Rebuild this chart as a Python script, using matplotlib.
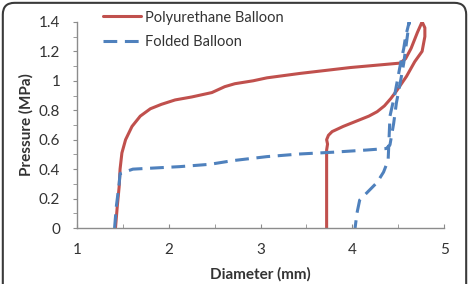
import matplotlib
matplotlib.use("Agg")
import matplotlib.pyplot as plt
from matplotlib.patches import FancyBboxPatch

# Polyurethane balloon (inflate then deflate)
pu_d = [1.42, 1.44, 1.46, 1.47, 1.49, 1.53, 1.60, 1.69, 1.80, 1.92, 2.07, 2.25, 2.47, 2.61, 2.72, 2.92, 3.07, 3.43, 3.98, 4.52, 4.58, 4.64, 4.71, 4.76, 4.79, 4.79, 4.76, 4.68, 4.59, 4.48, 4.42, 4.35, 4.27, 4.18, 4.08, 3.90, 3.78, 3.74, 3.72, 3.73, 3.72, 3.72, 3.72]
pu_p = [0.00, 0.15, 0.28, 0.40, 0.51, 0.60, 0.69, 0.76, 0.81, 0.84, 0.87, 0.89, 0.92, 0.96, 0.98, 1.00, 1.02, 1.05, 1.09, 1.12, 1.15, 1.22, 1.33, 1.40, 1.36, 1.30, 1.20, 1.13, 1.03, 0.93, 0.88, 0.83, 0.79, 0.76, 0.735, 0.69, 0.655, 0.63, 0.60, 0.57, 0.53, 0.40, 0.00]

# Folded balloon (inflate then deflate)
fb_d = [1.41, 1.43, 1.46, 1.47, 1.61, 2.12, 2.45, 2.70, 3.07, 3.43, 3.79, 4.16, 4.37, 4.41, 4.45, 4.48, 4.52, 4.56, 4.59, 4.62, 4.58, 4.56, 4.52, 4.46, 4.41, 4.39, 4.34, 4.27, 4.08, 4.05, 4.03]
fb_p = [0.00, 0.15, 0.30, 0.37, 0.40, 0.417, 0.433, 0.458, 0.485, 0.503, 0.515, 0.53, 0.54, 0.565, 0.71, 0.85, 0.98, 1.12, 1.26, 1.40, 1.30, 1.22, 1.10, 0.90, 0.76, 0.46, 0.38, 0.31, 0.19, 0.10, 0.00]

x_ticks = [1, 2, 3, 4, 5]
y_ticks = [0, 0.2, 0.4, 0.6, 0.8, 1.0, 1.2, 1.4]
y_labels = ["0", "0.2", "0.4", "0.6", "0.8", "1", "1.2", "1.4"]

plt.rcParams['font.family'] = ['Lato', 'DejaVu Sans']

fig = plt.figure(figsize=(4.69, 2.84), dpi=100)
border = FancyBboxPatch((0.006, -0.05), 0.988, 1.04, boxstyle="round,pad=0,rounding_size=0.025",
                        transform=fig.transFigure, facecolor="none", edgecolor="#3a3a3a",
                        linewidth=1.5, mutation_aspect=469/284, zorder=-1)
fig.patches.append(border)

ax = fig.add_axes([0.164, 0.197, 0.783, 0.726])
ax.set_facecolor("none")
ax.plot(pu_d, pu_p, color="#C0504D", lw=2.2, label="Polyurethane Balloon",
        solid_joinstyle="round", solid_capstyle="round")
ax.plot(fb_d, fb_p, color="#4F81BD", lw=2.2, ls=(0, (4.5, 2.5)), label="Folded Balloon")

ax.set_xlim(1, 5)
ax.set_ylim(0, 1.4)
ax.set_xticks(x_ticks)
ax.set_xticks([1.5, 2.5, 3.5, 4.5], minor=True)
ax.set_yticks(y_ticks)
ax.set_yticklabels(y_labels)
ax.set_yticks([0.1, 0.3, 0.5, 0.7, 0.9, 1.1, 1.3], minor=True)

for s in ["top", "right"]:
    ax.spines[s].set_visible(False)
for s in ["left", "bottom"]:
    ax.spines[s].set_color("#8c8c8c")
    ax.spines[s].set_linewidth(1.0)

ax.tick_params(axis="x", which="both", direction="in", length=3, color="#8c8c8c", labelsize=11, labelcolor="#333333", pad=11)
ax.tick_params(axis="y", which="both", direction="out", length=3, color="#8c8c8c", labelsize=11, labelcolor="#333333", pad=9)

ax.set_xlabel("Diameter (mm)", fontsize=11, fontweight="bold", color="#333333", labelpad=7)
ax.set_ylabel("Pressure (MPa)", fontsize=11, fontweight="bold", color="#333333", labelpad=4)

leg = ax.legend(loc="upper left", bbox_to_anchor=(0.07, 1.055), frameon=False, fontsize=10.5,
                handlelength=2.6, handletextpad=0.3, labelspacing=0.75, borderaxespad=0, borderpad=0)
for t in leg.get_texts():
    t.set_color("#333333")

fig.savefig("out.png", dpi=100)
